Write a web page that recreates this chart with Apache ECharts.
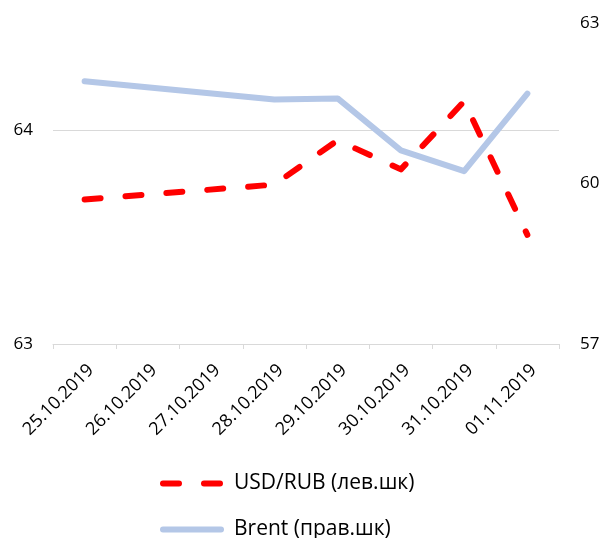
<!DOCTYPE html>
<html>
<head>
<meta charset="utf-8">
<script src="https://cdn.jsdelivr.net/npm/echarts@6/dist/echarts.min.js"></script>
<style>
  html, body { margin: 0; padding: 0; background: #fff; }
  #chart { width: 603px; height: 538px; }
</style>
</head>
<body>
<div id="chart"></div>
<script>
// dates (26.10 and 27.10 are weekend, no quotes)
var dates = ['25.10.2019', '26.10.2019', '27.10.2019', '28.10.2019', '29.10.2019', '30.10.2019', '31.10.2019', '01.11.2019'];
var usdRub = [63.675, null, null, 63.745, 63.952, 63.816, 64.134, 63.51];
var brent = [61.91, null, null, 61.57, 61.59, 60.62, 60.23, 61.68];

var leftTicks = { min: 63, max: 64.5, interval: 1 };
var rightTicks = { min: 57, max: 63, interval: 3 };

var font = '"Open Sans", "Noto Sans", sans-serif';
var gridColor = '#d9d9d9';
var redDash = [16, 25];

// one legend per row, like the excel legend
function legendRow(name, top, lineStyle) {
  return {
    orient: 'vertical',
    left: 160,
    top: top,
    padding: 0,
    itemWidth: 58,
    itemHeight: 20,
    textStyle: { fontFamily: font, fontSize: 21, color: '#000', padding: [0, 0, 0, 8] },
    data: [
      { name: name, lineStyle: lineStyle, itemStyle: { opacity: 0 } }
    ]
  };
}

var option = {
  animation: false,
  textStyle: { fontFamily: font },
  grid: {
    left: 53,
    right: 44,
    top: 23,
    bottom: 194,
    containLabel: false
  },
  legend: [
    legendRow('USD/RUB (лев.шк)', 473, { width: 6, type: redDash, cap: 'round' }),
    legendRow('Brent (прав.шк)', 519, { width: 6, cap: 'round' })
  ],
  xAxis: {
    type: 'category',
    data: dates,
    boundaryGap: true,
    axisLine: { lineStyle: { color: gridColor, width: 1 } },
    axisTick: { show: true, length: 5, lineStyle: { color: gridColor } },
    axisLabel: {
      rotate: 45,
      interval: 0,
      margin: 17,
      verticalAlign: 'top',
      fontFamily: font,
      fontSize: 18,
      color: '#000'
    }
  },
  yAxis: [
    {
      type: 'value',
      min: leftTicks.min,
      max: leftTicks.max,
      interval: leftTicks.interval,
      axisLine: { show: false },
      axisTick: { show: false },
      axisLabel: { margin: 20, fontFamily: font, fontSize: 17, color: '#000', showMaxLabel: false },
      splitLine: { show: true, showMinLine: false, showMaxLine: false, lineStyle: { color: gridColor, width: 1 } }
    },
    {
      type: 'value',
      min: rightTicks.min,
      max: rightTicks.max,
      interval: rightTicks.interval,
      axisLine: { show: false },
      axisTick: { show: false },
      axisLabel: { margin: 21, fontFamily: font, fontSize: 17, color: '#000' },
      splitLine: { show: false }
    }
  ],
  series: [
    {
      name: 'USD/RUB (лев.шк)',
      type: 'line',
      yAxisIndex: 0,
      data: usdRub,
      connectNulls: true,
      symbol: 'none',
      z: 3,
      lineStyle: { color: '#ff0000', width: 6, type: redDash, cap: 'round', join: 'round' },
      itemStyle: { color: '#ff0000' }
    },
    {
      name: 'Brent (прав.шк)',
      type: 'line',
      yAxisIndex: 1,
      data: brent,
      connectNulls: true,
      symbol: 'none',
      z: 2,
      lineStyle: { color: '#b4c7e7', width: 6, cap: 'round', join: 'round' },
      itemStyle: { color: '#b4c7e7' }
    }
  ]
};

var chartDom = document.getElementById('chart');
var myChart = echarts.init(chartDom, null, { renderer: 'canvas' });
myChart.setOption(option);
</script>
</body>
</html>
